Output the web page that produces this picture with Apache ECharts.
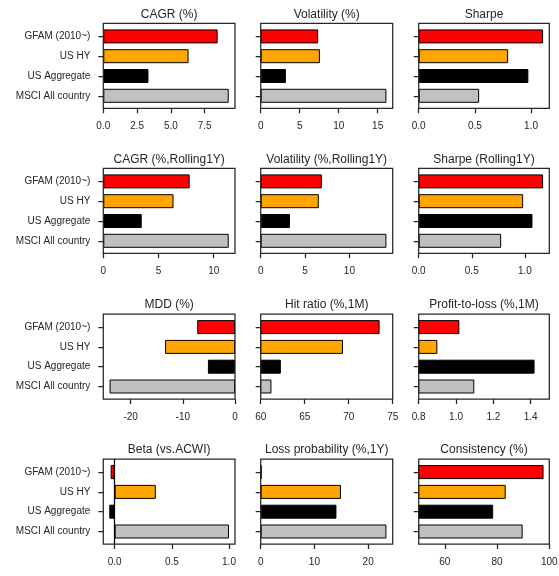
<!DOCTYPE html>
<html><head><meta charset="utf-8">
<script src="https://cdn.jsdelivr.net/npm/echarts@6/dist/echarts.min.js"></script>
<style>html,body{margin:0;padding:0;background:#fff}#c{width:559px;height:576px}</style>
</head><body><div id="c"></div>
<script>
const categories = ['GFAM (2010~)', 'US HY', 'US Aggregate', 'MSCI All country'];
const barColors = ['#ff0000', '#ffa500', '#000000', '#c0c0c0'];

const cagr      = [8.46, 6.31, 3.34, 9.28];
const vol       = [7.37, 7.59, 3.23, 16.12];
const sharpe    = [1.107, 0.796, 0.976, 0.538];
const cagrR     = [7.82, 6.36, 3.48, 11.36];
const volR      = [6.89, 6.55, 3.30, 14.17];
const sharpeR   = [1.172, 0.984, 1.072, 0.777];
const mdd       = [-7.24, -13.4, -5.19, -24.04];
const hitRatio  = [73.51, 69.35, 62.29, 61.22];
const profitLoss= [1.018, 0.90, 1.421, 1.098];
const beta      = [-0.035, 0.36, -0.047, 1.0];
const lossProb  = [0.15, 14.94, 14.1, 23.4];
const consist   = [97.8, 83.3, 78.5, 89.8];

const cagrTicks = [0, 2.5, 5, 7.5];
const volTicks = [0, 5, 10, 15];
const sharpeTicks = [0, 0.5, 1.0];
const cagrRTicks = [0, 5, 10];
const volRTicks = [0, 5, 10];
const sharpeRTicks = [0, 0.5, 1.0];
const mddTicks = [-20, -10, 0];
const hitTicks = [60, 65, 70, 75];
const plTicks = [0.8, 1.0, 1.2, 1.4];
const betaTicks = [0, 0.5, 1.0];
const lossTicks = [0, 10, 20];
const consTicks = [60, 80, 100];

const panels = [
  {title: 'CAGR (%)', values: cagr, ticks: cagrTicks, dec: 1},
  {title: 'Volatility (%)', values: vol, ticks: volTicks, dec: 0},
  {title: 'Sharpe', values: sharpe, ticks: sharpeTicks, dec: 1},
  {title: 'CAGR (%,Rolling1Y)', values: cagrR, ticks: cagrRTicks, dec: 0},
  {title: 'Volatility (%,Rolling1Y)', values: volR, ticks: volRTicks, dec: 0},
  {title: 'Sharpe (Rolling1Y)', values: sharpeR, ticks: sharpeRTicks, dec: 1},
  {title: 'MDD (%)', values: mdd, ticks: mddTicks, dec: 0},
  {title: 'Hit ratio (%,1M)', values: hitRatio, ticks: hitTicks, dec: 0, lim: [60, 75]},
  {title: 'Profit-to-loss (%,1M)', values: profitLoss, ticks: plTicks, dec: 1, lim: [0.8, 1.5]},
  {title: 'Beta (vs.ACWI)', values: beta, ticks: betaTicks, dec: 1, zeroLine: true},
  {title: 'Loss probability (%,1Y)', values: lossProb, ticks: lossTicks, dec: 0},
  {title: 'Consistency (%)', values: consist, ticks: consTicks, dec: 0, lim: [50, 100]}
];

function autoLim(vals) {
  let lo = Math.min(0, ...vals), hi = Math.max(0, ...vals);
  const span = hi - lo;
  if (lo < 0) lo -= 0.05 * span;
  if (hi > 0) hi += 0.05 * span;
  return [lo, hi];
}

const colLeft = [103.3, 260.7, 418.7];
const colWidth = [131.7, 132, 130.6];
const rowTop = [23.3, 168.3, 314, 459];
const H = 85;
const IN_TOP = 3.2, IN_H = 79.2;
const FONT = '"Liberation Sans", Arial, sans-serif';
const INK = '#262626';

const grid = [], xAxis = [], yAxis = [], series = [], title = [];
panels.forEach((p, i) => {
  const r = Math.floor(i / 3), c = i % 3;
  const lim = p.lim || autoLim(p.values);
  const gFrame = grid.length, gData = gFrame + 1;
  // frame grid: box, x ticks & labels
  grid.push({left: colLeft[c], top: rowTop[r], width: colWidth[c], height: H,
    show: true, borderColor: INK, borderWidth: 1.25, backgroundColor: 'transparent',
    containLabel: false, outerBoundsMode: 'none', z: 3});
  // data grid: bars and category ticks
  grid.push({left: colLeft[c], top: rowTop[r] + IN_TOP, width: colWidth[c], height: IN_H,
    show: false, containLabel: false, outerBoundsMode: 'none'});
  title.push({text: p.title, left: colLeft[c] + colWidth[c] / 2, top: rowTop[r] - 15,
    textAlign: 'center', padding: 0,
    textStyle: {fontSize: 12, fontWeight: 'normal', color: INK, fontFamily: FONT}});
  xAxis.push({type: 'value', gridIndex: gFrame, min: lim[0], max: lim[1],
    axisLine: {show: false},
    axisTick: {show: true, length: 5, customValues: p.ticks, lineStyle: {color: INK, width: 1.25}},
    axisLabel: {customValues: p.ticks, formatter: v => Number(v).toFixed(p.dec),
      color: INK, fontSize: 10, margin: 13, fontFamily: FONT},
    splitLine: {show: false}});
  yAxis.push({type: 'value', gridIndex: gFrame, min: 0, max: 1, show: false});
  xAxis.push({type: 'value', gridIndex: gData, min: lim[0], max: lim[1], show: false});
  yAxis.push({type: 'category', gridIndex: gData, inverse: true, data: categories,
    axisLine: {show: false, onZero: false},
    axisTick: {show: true, alignWithLabel: true, length: 5, lineStyle: {color: INK, width: 1.25}},
    axisLabel: {show: c === 0, color: INK, fontSize: 10, margin: 13, fontFamily: FONT},
    splitLine: {show: false}});
  series.push({type: 'bar', xAxisIndex: gData, yAxisIndex: gData, barWidth: 14, clip: true,
    data: p.values.map((v, j) => ({value: v, itemStyle: {color: barColors[j]}})),
    itemStyle: {borderColor: '#000', borderWidth: 1}});
  if (p.zeroLine) {
    series.push({type: 'line', xAxisIndex: gFrame, yAxisIndex: gFrame, data: [],
      markLine: {silent: true, symbol: ['none', 'none'], label: {show: false},
        lineStyle: {color: '#000', width: 1.25, type: 'solid'}, data: [{xAxis: 0}]}});
  }
});

const chart = echarts.init(document.getElementById('c'), null, {renderer: 'canvas'});
chart.setOption({animation: false, backgroundColor: '#fff', title, grid, xAxis, yAxis, series,
  textStyle: {fontFamily: FONT}});
</script></body></html>
